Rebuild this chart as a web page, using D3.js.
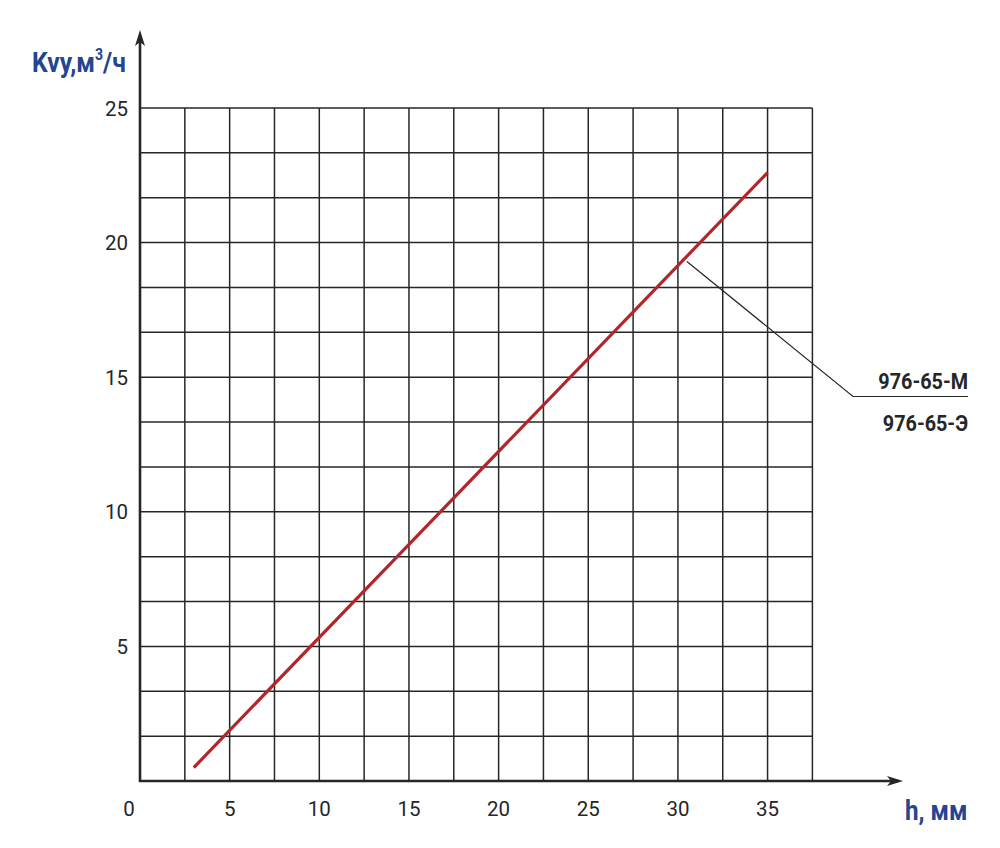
<!DOCTYPE html>
<html><head><meta charset="utf-8">
<script src="https://cdn.jsdelivr.net/npm/d3@7"></script>
<style>body{margin:0;background:#fff}svg{display:block}</style>
</head><body><svg id="c" width="1000" height="848"></svg>
<script>
const xTicks = [0,5,10,15,20,25,30,35];
const yTicks = [5,10,15,20,25];
const xGrid = [2.5,5,7.5,10,12.5,15,17.5,20,22.5,25,27.5,30,32.5,35,37.5];
const yGrid = [5/3,10/3,5,20/3,25/3,10,35/3,40/3,15,50/3,55/3,20,65/3,70/3,25];
const seriesH = [3,35];
const seriesKvy = [0.5,22.6];
const seriesLabels = ["976-65-М","976-65-Э"];
const leaderPoint = [30.5, 19.3];

const svg = d3.select("#c");
const x = d3.scaleLinear().domain([0,37.5]).range([140,812.4]);
const y = d3.scaleLinear().domain([0,25]).range([781,108]);
const ink = "#262626", blue = "#24458f";

const g = svg.append("g");
g.selectAll(".vg").data(xGrid).join("line")
  .attr("x1",d=>x(d)).attr("x2",d=>x(d)).attr("y1",y(0)).attr("y2",y(25))
  .attr("stroke",ink).attr("stroke-width",1.5);
g.selectAll(".hg").data(yGrid).join("line")
  .attr("x1",x(0)).attr("x2",x(37.5)).attr("y1",d=>y(d)).attr("y2",d=>y(d))
  .attr("stroke",ink).attr("stroke-width",1.5);

// axes with arrows
svg.append("line").attr("x1",x(0)).attr("x2",x(0)).attr("y1",y(0)+1).attr("y2",36)
  .attr("stroke",ink).attr("stroke-width",2.6);
svg.append("path").attr("d",`M${x(0)},30 L${x(0)+5},46 L${x(0)},42 L${x(0)-5},46 Z`).attr("fill",ink);
svg.append("line").attr("x1",x(0)-1).attr("x2",898).attr("y1",y(0)).attr("y2",y(0))
  .attr("stroke",ink).attr("stroke-width",2.6);
svg.append("path").attr("d",`M903,${y(0)} L887,${y(0)-5} L891,${y(0)} L887,${y(0)+5} Z`).attr("fill",ink);

// tick labels
svg.selectAll(".xt").data(xTicks).join("text")
  .attr("x",d=>d===0?129:x(d)).attr("y",816).attr("text-anchor","middle")
  .attr("font-family","Roboto").attr("font-size",20.5).attr("fill",ink).text(d=>d);
svg.selectAll(".yt").data(yTicks).join("text")
  .attr("x",128).attr("y",d=>y(d)+7.5).attr("text-anchor","end")
  .attr("font-family","Roboto").attr("font-size",20.5).attr("fill",ink).text(d=>d);

// data line
const pts = seriesH.map((h,i)=>[h,seriesKvy[i]]);
svg.append("path").attr("d",d3.line().x(d=>x(d[0])).y(d=>y(d[1]))(pts))
  .attr("stroke","#b0262b").attr("stroke-width",3.2).attr("fill","none");

// leader line
svg.append("path").attr("d",`M${x(leaderPoint[0])},${y(leaderPoint[1])} L853,396.5 L968,396.5`)
  .attr("stroke",ink).attr("stroke-width",1.2).attr("fill","none");
seriesLabels.forEach((t,i)=>{
  svg.append("text").attr("transform",`translate(968,${389+i*42}) scale(0.9,1)`)
    .attr("text-anchor","end").attr("font-family","Roboto").attr("font-weight","bold")
    .attr("font-size",22).attr("fill",ink).text(t);
});

// axis titles
const yl = svg.append("text").attr("transform","translate(32,72) scale(0.88,1)")
  .attr("font-family","Roboto").attr("font-weight","bold").attr("font-size",28).attr("fill",blue);
yl.append("tspan").text("Kvy,м");
yl.append("tspan").attr("font-size",16).attr("dy",-12).text("3");
yl.append("tspan").attr("dy",12).text("/ч");
svg.append("text").attr("transform","translate(905,820) scale(0.9,1)")
  .attr("font-family","Roboto").attr("font-weight","bold").attr("font-size",27).attr("fill",blue).text("h, мм");
</script></body></html>
